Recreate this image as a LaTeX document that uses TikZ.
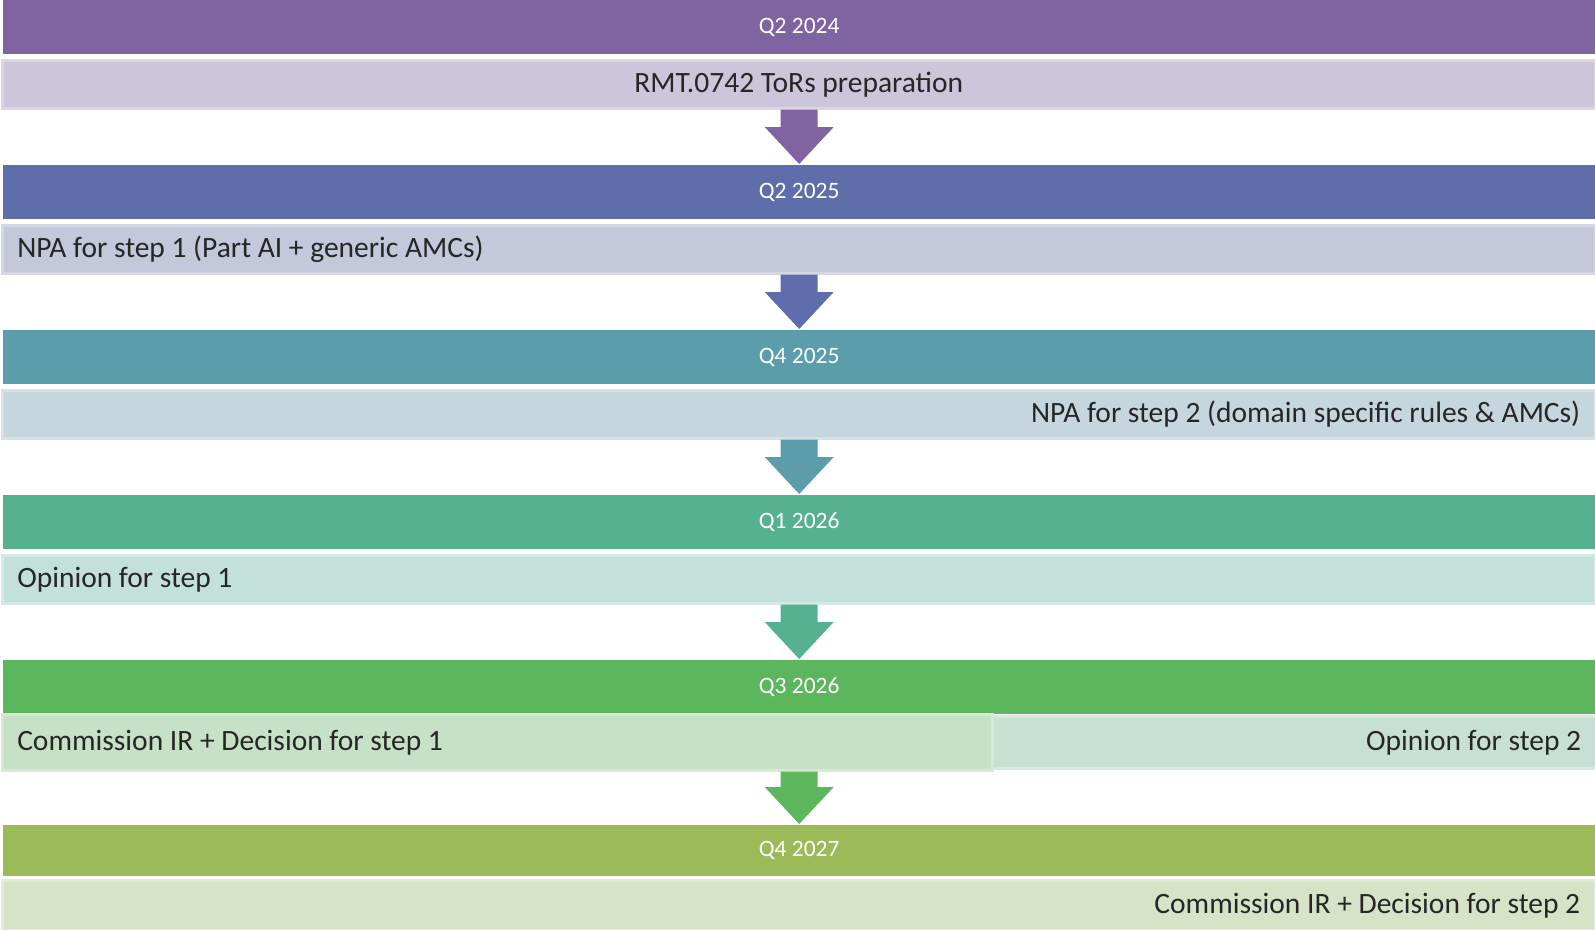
\documentclass[tikz,border=0pt]{standalone}
\usepackage{fontspec}
\setmainfont{Carlito}
\usetikzlibrary{positioning,calc}

\definecolor{hdrA}{HTML}{8064A2}
\definecolor{barA}{HTML}{CDC6DA}
\definecolor{hdrB}{HTML}{5F6EAA}
\definecolor{barB}{HTML}{C5C7DB}
\definecolor{hdrC}{HTML}{5B9DAB}
\definecolor{barC}{HTML}{C6D6DE}
\definecolor{hdrD}{HTML}{56B28E}
\definecolor{barD}{HTML}{C4E0DA}
\definecolor{hdrE}{HTML}{5CB75C}
\definecolor{barE}{HTML}{C7E1C6}
\definecolor{barEr}{HTML}{C8DFD3}
\definecolor{hdrF}{HTML}{9BBB59}
\definecolor{barF}{HTML}{D6E3C7}
\definecolor{txt}{HTML}{262626}

\tikzset{
 hdr/.style={fill=#1, text=white, anchor=north west, inner sep=0pt,
  minimum width=1592pt, minimum height=54pt,
  font=\fontsize{23.5}{26}\selectfont},
 bar/.style={fill=#1, draw=#1!72!white, line width=2.5pt, anchor=north west,
  inner ysep=0pt, inner xsep=15pt, minimum height=48pt, text=txt,
  font=\fontsize{29.5}{32}\selectfont},
 wide/.style={minimum width=1593pt, text width=1563pt}
}

% block arrow from the bottom of one row to the header of the next
\newcommand\flowarrow[3]{%
 \fill[#3] let \p1=(#1.south), \p2=(#2.north) in
  (\x2-18.5pt,\y1) -- (\x2+18.5pt,\y1) -- (\x2+18.5pt,\y2+38pt)
  -- (\x2+34.5pt,\y2+38pt) -- (\x2,\y2+1pt) -- (\x2-34.5pt,\y2+38pt)
  -- (\x2-18.5pt,\y2+38pt) -- cycle;}

\begin{document}
\begin{tikzpicture}[x=1pt,y=-1pt]
 \useasboundingbox (0,0) rectangle (1595,929);

 % rows
 \node[hdr=hdrA] (h1) at (3,0) {Q2 2024};
 \node[bar=barA,wide,align=flush center] (b1) at (1,59) {RMT.0742 ToRs preparation};
 \node[hdr=hdrB] (h2) at (3,165) {Q2 2025};
 \node[bar=barB,wide,align=flush left] (b2) at (1,224) {NPA for step 1 (Part AI + generic AMCs)};
 \node[hdr=hdrC] (h3) at (3,330) {Q4 2025};
 \node[bar=barC,wide,align=flush right] (b3) at (1,389) {NPA for step 2 (domain specific rules \& AMCs)};
 \node[hdr=hdrD] (h4) at (3,495) {Q1 2026};
 \node[bar=barD,wide,align=flush left] (b4) at (1,554) {Opinion for step 1};
 \node[hdr=hdrE] (h5) at (3,660) {Q3 2026};
 \node[bar=barEr,minimum width=607pt,text width=577pt,align=flush right,minimum height=52pt]
  (b5r) at (988,715) {Opinion for step 2};
 \node[bar=barE,minimum width=990pt,text width=960pt,align=flush left,minimum height=56pt]
  (b5l) at (1,713) {Commission IR + Decision for step 1};
 \node[hdr=hdrF,minimum height=51pt] (h6) at (3,825) {Q4 2027};
 \node[bar=barF,wide,align=flush right,minimum height=50pt] (b6) at (1,879) {Commission IR + Decision for step 2};

 % arrows
 \flowarrow{b1}{h2}{hdrA}
 \flowarrow{b2}{h3}{hdrB}
 \flowarrow{b3}{h4}{hdrC}
 \flowarrow{b4}{h5}{hdrD}
 \flowarrow{b5l}{h6}{hdrE}
\end{tikzpicture}
\end{document}
